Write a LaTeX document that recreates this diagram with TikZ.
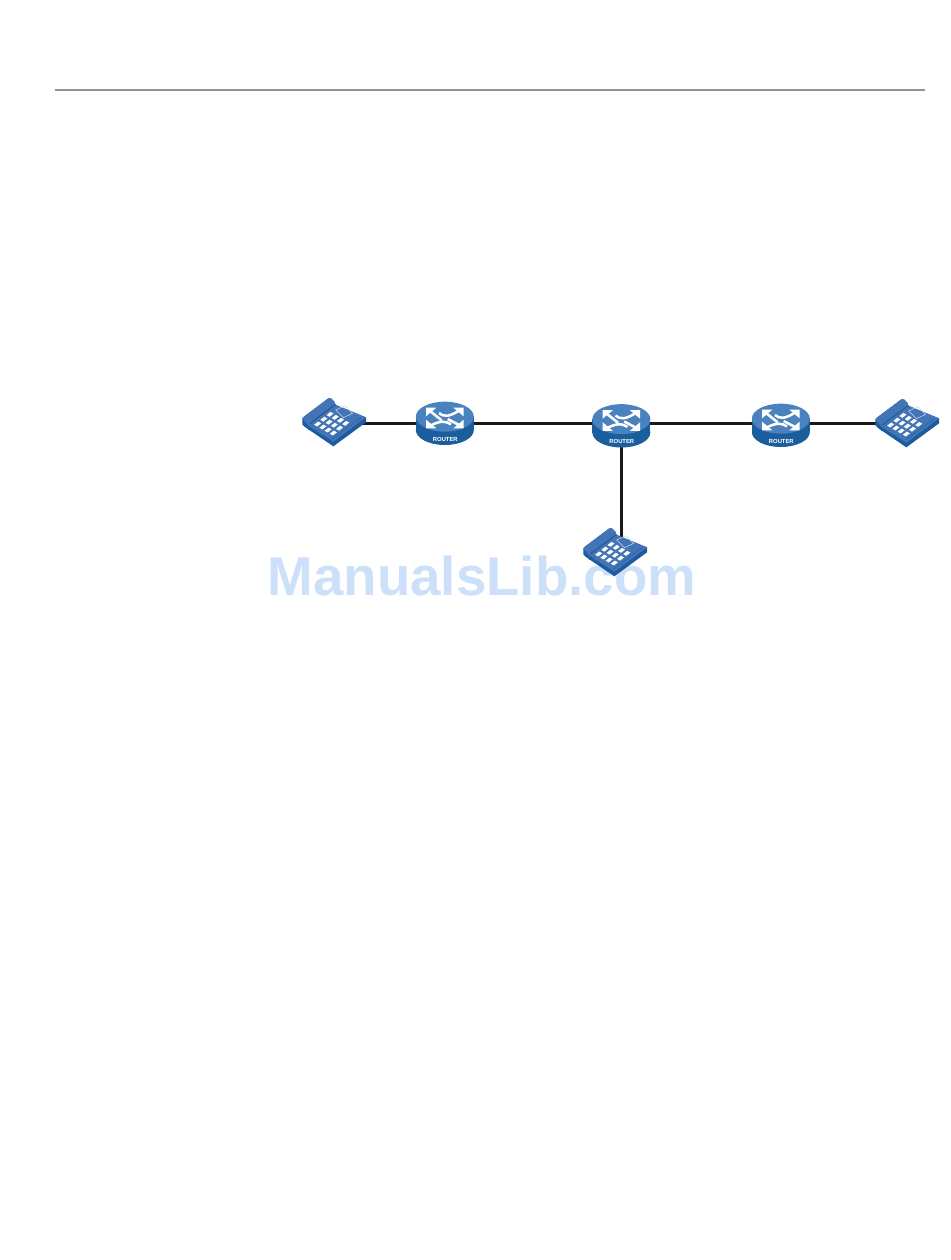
\documentclass[tikz,border=0pt]{standalone}
\usepackage{fontspec}
\setmainfont{Liberation Sans}
\definecolor{phonetop}{HTML}{4375B6}
\definecolor{phoneside}{HTML}{1C5C9E}
\definecolor{phonedark}{HTML}{2A62A6}
\definecolor{routertop}{HTML}{4A82C0}
\definecolor{routerside}{HTML}{1B5E9E}
\definecolor{wmark}{HTML}{CDE0F9}
\tikzset{
  x=0.75pt,y=-0.75pt,
  anchorbox/.style={inner sep=0pt,minimum width=20pt,minimum height=20pt},
  link/.style={draw=black!90,line width=2.1pt},
  rstem/.style={draw=white,line width=1.9pt},
  phoneicon/.pic={
    \begin{scope}[shift={(-29.25pt,27.75pt)},x=0.25pt,y=-0.25pt]
      \fill[phoneside] (22,100)--(28,94)--(100,40)--(108,40)--(120,52)--(118,58)--(213,97)--(213,112)--(115,184)--(30,126)--(22,118)--cycle;
      \fill[phonetop] (22,100)--(28,94)--(100,40)--(108,40)--(120,52)--(118,58)--(205,94)--(213,97)--(115,170)--(40,122)--cycle;
      \draw[phoneside,line width=0.8pt] (44,116)--(122,58);
      \draw[phoneside,line width=0.5pt] (40,122)--(40,136);
      \draw[phonedark,line width=0.5pt] (198,98)--(112,162);
      \draw[white!70!phonetop,line width=0.4pt] (122,75)--(150,62)--(173,85)--(145,98)--cycle;
      \foreach \i in {0,1,2}{\foreach \j in {0,1,2,3}{
        \fill[white,shift={({68+\i*18.5+\j*15.7},{117-\i*14.5+\j*9})}] (-10.5,2.1)--(1.5,-7.3)--(10.5,-2.1)--(-1.5,7.3)--cycle;
      }}
    \end{scope}
  },
  routericon/.pic={
    \begin{scope}[shift={(-112.5pt,28.875pt)},x=0.25pt,y=-0.25pt]
      \fill[routerside] (449.5,135) ellipse[x radius=87,y radius=45];
      \fill[routerside] (362.5,95) rectangle (536.5,135);
      \fill[routertop] (449.5,95) ellipse[x radius=87,y radius=45];
      \fill[white] (393,68)--(424,68)--(393,94)--cycle;
      \fill[white] (506,68)--(475,68)--(506,94)--cycle;
      \fill[white] (393,130)--(424,130)--(393,104)--cycle;
      \fill[white] (506,130)--(475,130)--(506,104)--cycle;
      \draw[rstem] (405,78) -- (440,106);
      \draw[rstem] (432,84) .. controls (445,96) and (462,96) .. (490,78);
      \draw[rstem] (458,102) -- (494,121);
      \draw[rstem] (408,121) .. controls (438,106) and (452,108) .. (468,118);
      \node[text=white,inner sep=0pt,font=\bfseries\fontsize{4.4pt}{5pt}\selectfont] (-lab) at (451,163) {ROUTER};
    \end{scope}
  }
}
\begin{document}
\begin{tikzpicture}
\useasboundingbox (0,0) rectangle (950,1260);
\fill[white] (0,0) rectangle (950,1260);
\coordinate (ruleL) at (55,90);
\coordinate (ruleR) at (925,90);
\draw[black!42,line width=1pt] (ruleL)--(ruleR);
\node[anchorbox] (p1) at (334,423.5) {};
\node[anchorbox] (r1) at (445,423.5) {};
\node[anchorbox] (r2) at (621.5,423.5) {};
\node[anchorbox] (r3) at (781,423.5) {};
\node[anchorbox] (p2) at (906,423.5) {};
\node[anchorbox] (p3) at (621.5,552) {};
\node[text=wmark,inner sep=0pt,font=\bfseries\fontsize{41pt}{41pt}\selectfont] (wm) at (482,576) {ManualsLib.com};
\draw[link] (p1)--(r1);
\draw[link] (r1)--(r2);
\draw[link] (r2)--(r3);
\draw[link] (r3)--(p2);
\draw[link] (r2)--(p3);
\pic (pi1) at (334,422) {phoneicon};
\pic (pi2) at (907,423) {phoneicon};
\pic (pi3) at (615,552) {phoneicon};
\pic (ri1) at (445,423.5) {routericon};
\pic (ri2) at (621.5,426) {routericon};
\pic (ri3) at (781,425.5) {routericon};
\end{tikzpicture}
\end{document}
